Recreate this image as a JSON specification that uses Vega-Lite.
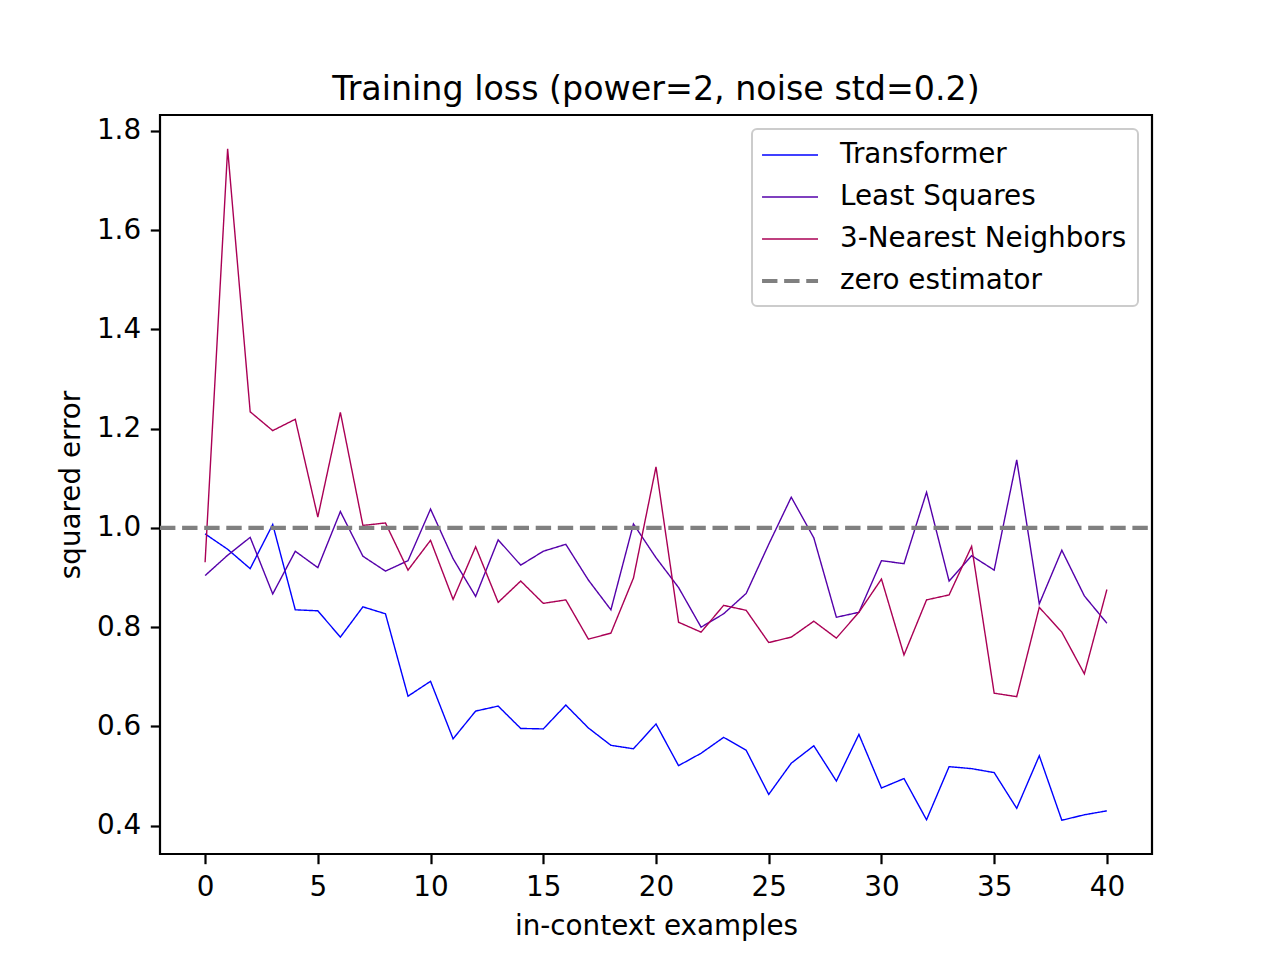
{
  "$schema": "https://vega.github.io/schema/vega-lite/v6.json",
  "autosize": "none",
  "width": 992,
  "height": 739,
  "padding": {"left": 160, "top": 115, "right": 128, "bottom": 106},
  "background": "white",
  "title": {
    "text": "Training loss (power=2, noise std=0.2)",
    "font": "DejaVu Sans",
    "fontSize": 33.3,
    "fontWeight": "normal",
    "color": "black",
    "baseline": "alphabetic",
    "offset": -18
  },
  "config": {
    "view": {"stroke": "black", "strokeWidth": 2.2},
    "font": "DejaVu Sans",
    "axis": {
      "domain": false,
      "grid": false,
      "labelFont": "DejaVu Sans",
      "labelFontSize": 27.8,
      "labelColor": "black",
      "tickColor": "black",
      "tickSize": 9.7,
      "tickWidth": 2.2,
      "labelPadding": 9.7,
      "titleFont": "DejaVu Sans",
      "titleFontSize": 27.8,
      "titleFontWeight": "normal",
      "titleColor": "black",
      "titlePadding": 11
    },
    "legend": {
      "labelFont": "DejaVu Sans",
      "labelFontSize": 27.8,
      "labelColor": "black",
      "labelLimit": 500,
      "orient": "top-right",
      "offset": 14,
      "padding": 11,
      "rowPadding": 13,
      "labelOffset": 47,
      "symbolType": "M-1.14,0H2.86",
      "symbolSize": 784,
      "fillColor": "rgba(255,255,255,0.8)",
      "strokeColor": "#cccccc",
      "cornerRadius": 5
    }
  },
  "data": {
    "values": [
      {"x": 0, "y": 0.988, "series": "Transformer"},
      {"x": 1, "y": 0.957, "series": "Transformer"},
      {"x": 2, "y": 0.918, "series": "Transformer"},
      {"x": 3, "y": 1.007, "series": "Transformer"},
      {"x": 4, "y": 0.835, "series": "Transformer"},
      {"x": 5, "y": 0.833, "series": "Transformer"},
      {"x": 6, "y": 0.780, "series": "Transformer"},
      {"x": 7, "y": 0.841, "series": "Transformer"},
      {"x": 8, "y": 0.827, "series": "Transformer"},
      {"x": 9, "y": 0.661, "series": "Transformer"},
      {"x": 10, "y": 0.691, "series": "Transformer"},
      {"x": 11, "y": 0.575, "series": "Transformer"},
      {"x": 12, "y": 0.631, "series": "Transformer"},
      {"x": 13, "y": 0.641, "series": "Transformer"},
      {"x": 14, "y": 0.596, "series": "Transformer"},
      {"x": 15, "y": 0.595, "series": "Transformer"},
      {"x": 16, "y": 0.643, "series": "Transformer"},
      {"x": 17, "y": 0.597, "series": "Transformer"},
      {"x": 18, "y": 0.562, "series": "Transformer"},
      {"x": 19, "y": 0.555, "series": "Transformer"},
      {"x": 20, "y": 0.605, "series": "Transformer"},
      {"x": 21, "y": 0.521, "series": "Transformer"},
      {"x": 22, "y": 0.546, "series": "Transformer"},
      {"x": 23, "y": 0.578, "series": "Transformer"},
      {"x": 24, "y": 0.552, "series": "Transformer"},
      {"x": 25, "y": 0.463, "series": "Transformer"},
      {"x": 26, "y": 0.526, "series": "Transformer"},
      {"x": 27, "y": 0.561, "series": "Transformer"},
      {"x": 28, "y": 0.490, "series": "Transformer"},
      {"x": 29, "y": 0.584, "series": "Transformer"},
      {"x": 30, "y": 0.476, "series": "Transformer"},
      {"x": 31, "y": 0.495, "series": "Transformer"},
      {"x": 32, "y": 0.412, "series": "Transformer"},
      {"x": 33, "y": 0.519, "series": "Transformer"},
      {"x": 34, "y": 0.515, "series": "Transformer"},
      {"x": 35, "y": 0.507, "series": "Transformer"},
      {"x": 36, "y": 0.435, "series": "Transformer"},
      {"x": 37, "y": 0.541, "series": "Transformer"},
      {"x": 38, "y": 0.411, "series": "Transformer"},
      {"x": 39, "y": 0.422, "series": "Transformer"},
      {"x": 40, "y": 0.430, "series": "Transformer"},
      {"x": 0, "y": 0.904, "series": "Least Squares"},
      {"x": 1, "y": 0.945, "series": "Least Squares"},
      {"x": 2, "y": 0.981, "series": "Least Squares"},
      {"x": 3, "y": 0.867, "series": "Least Squares"},
      {"x": 4, "y": 0.953, "series": "Least Squares"},
      {"x": 5, "y": 0.920, "series": "Least Squares"},
      {"x": 6, "y": 1.033, "series": "Least Squares"},
      {"x": 7, "y": 0.943, "series": "Least Squares"},
      {"x": 8, "y": 0.913, "series": "Least Squares"},
      {"x": 9, "y": 0.934, "series": "Least Squares"},
      {"x": 10, "y": 1.038, "series": "Least Squares"},
      {"x": 11, "y": 0.938, "series": "Least Squares"},
      {"x": 12, "y": 0.862, "series": "Least Squares"},
      {"x": 13, "y": 0.976, "series": "Least Squares"},
      {"x": 14, "y": 0.925, "series": "Least Squares"},
      {"x": 15, "y": 0.953, "series": "Least Squares"},
      {"x": 16, "y": 0.967, "series": "Least Squares"},
      {"x": 17, "y": 0.895, "series": "Least Squares"},
      {"x": 18, "y": 0.835, "series": "Least Squares"},
      {"x": 19, "y": 1.008, "series": "Least Squares"},
      {"x": 20, "y": 0.940, "series": "Least Squares"},
      {"x": 21, "y": 0.880, "series": "Least Squares"},
      {"x": 22, "y": 0.800, "series": "Least Squares"},
      {"x": 23, "y": 0.827, "series": "Least Squares"},
      {"x": 24, "y": 0.868, "series": "Least Squares"},
      {"x": 25, "y": 0.967, "series": "Least Squares"},
      {"x": 26, "y": 1.062, "series": "Least Squares"},
      {"x": 27, "y": 0.980, "series": "Least Squares"},
      {"x": 28, "y": 0.820, "series": "Least Squares"},
      {"x": 29, "y": 0.830, "series": "Least Squares"},
      {"x": 30, "y": 0.934, "series": "Least Squares"},
      {"x": 31, "y": 0.928, "series": "Least Squares"},
      {"x": 32, "y": 1.072, "series": "Least Squares"},
      {"x": 33, "y": 0.893, "series": "Least Squares"},
      {"x": 34, "y": 0.944, "series": "Least Squares"},
      {"x": 35, "y": 0.915, "series": "Least Squares"},
      {"x": 36, "y": 1.137, "series": "Least Squares"},
      {"x": 37, "y": 0.847, "series": "Least Squares"},
      {"x": 38, "y": 0.955, "series": "Least Squares"},
      {"x": 39, "y": 0.863, "series": "Least Squares"},
      {"x": 40, "y": 0.808, "series": "Least Squares"},
      {"x": 0, "y": 0.931, "series": "3-Nearest Neighbors"},
      {"x": 1, "y": 1.764, "series": "3-Nearest Neighbors"},
      {"x": 2, "y": 1.234, "series": "3-Nearest Neighbors"},
      {"x": 3, "y": 1.196, "series": "3-Nearest Neighbors"},
      {"x": 4, "y": 1.219, "series": "3-Nearest Neighbors"},
      {"x": 5, "y": 1.022, "series": "3-Nearest Neighbors"},
      {"x": 6, "y": 1.233, "series": "3-Nearest Neighbors"},
      {"x": 7, "y": 1.005, "series": "3-Nearest Neighbors"},
      {"x": 8, "y": 1.010, "series": "3-Nearest Neighbors"},
      {"x": 9, "y": 0.915, "series": "3-Nearest Neighbors"},
      {"x": 10, "y": 0.975, "series": "3-Nearest Neighbors"},
      {"x": 11, "y": 0.856, "series": "3-Nearest Neighbors"},
      {"x": 12, "y": 0.962, "series": "3-Nearest Neighbors"},
      {"x": 13, "y": 0.850, "series": "3-Nearest Neighbors"},
      {"x": 14, "y": 0.893, "series": "3-Nearest Neighbors"},
      {"x": 15, "y": 0.848, "series": "3-Nearest Neighbors"},
      {"x": 16, "y": 0.855, "series": "3-Nearest Neighbors"},
      {"x": 17, "y": 0.776, "series": "3-Nearest Neighbors"},
      {"x": 18, "y": 0.788, "series": "3-Nearest Neighbors"},
      {"x": 19, "y": 0.899, "series": "3-Nearest Neighbors"},
      {"x": 20, "y": 1.123, "series": "3-Nearest Neighbors"},
      {"x": 21, "y": 0.810, "series": "3-Nearest Neighbors"},
      {"x": 22, "y": 0.790, "series": "3-Nearest Neighbors"},
      {"x": 23, "y": 0.844, "series": "3-Nearest Neighbors"},
      {"x": 24, "y": 0.834, "series": "3-Nearest Neighbors"},
      {"x": 25, "y": 0.769, "series": "3-Nearest Neighbors"},
      {"x": 26, "y": 0.780, "series": "3-Nearest Neighbors"},
      {"x": 27, "y": 0.812, "series": "3-Nearest Neighbors"},
      {"x": 28, "y": 0.778, "series": "3-Nearest Neighbors"},
      {"x": 29, "y": 0.830, "series": "3-Nearest Neighbors"},
      {"x": 30, "y": 0.897, "series": "3-Nearest Neighbors"},
      {"x": 31, "y": 0.744, "series": "3-Nearest Neighbors"},
      {"x": 32, "y": 0.855, "series": "3-Nearest Neighbors"},
      {"x": 33, "y": 0.865, "series": "3-Nearest Neighbors"},
      {"x": 34, "y": 0.963, "series": "3-Nearest Neighbors"},
      {"x": 35, "y": 0.667, "series": "3-Nearest Neighbors"},
      {"x": 36, "y": 0.660, "series": "3-Nearest Neighbors"},
      {"x": 37, "y": 0.840, "series": "3-Nearest Neighbors"},
      {"x": 38, "y": 0.790, "series": "3-Nearest Neighbors"},
      {"x": 39, "y": 0.706, "series": "3-Nearest Neighbors"},
      {"x": 40, "y": 0.876, "series": "3-Nearest Neighbors"},
      {"x": -2, "y": 1.0, "series": "zero estimator"},
      {"x": 42, "y": 1.0, "series": "zero estimator"}
    ]
  },
  "mark": {"type": "line", "clip": true},
  "encoding": {
    "x": {
      "field": "x",
      "type": "quantitative",
      "title": "in-context examples",
      "scale": {"domain": [-2, 42], "nice": false, "zero": false},
      "axis": {"values": [0, 5, 10, 15, 20, 25, 30, 35, 40], "format": "d"}
    },
    "y": {
      "field": "y",
      "type": "quantitative",
      "title": "squared error",
      "scale": {"domain": [0.343, 1.832], "nice": false, "zero": false},
      "axis": {"values": [0.4, 0.6, 0.8, 1.0, 1.2, 1.4, 1.6, 1.8], "format": ".1f"}
    },
    "color": {
      "field": "series",
      "type": "nominal",
      "title": null,
      "sort": null,
      "scale": {
        "domain": ["Transformer", "Least Squares", "3-Nearest Neighbors", "zero estimator"],
        "range": ["#0000ff", "#5500aa", "#aa0055", "#808080"]
      },
      "legend": {
        "encode": {
          "legend": {
            "update": {"strokeWidth": {"value": 2}}
          },
          "symbols": {
            "update": {
              "strokeWidth": {"signal": "(datum.value === 'zero estimator' ? 4.2 : 1.4)"}
            }
          }
        }
      }
    },
    "strokeDash": {
      "field": "series",
      "type": "nominal",
      "title": null,
      "sort": null,
      "scale": {
        "domain": ["Transformer", "Least Squares", "3-Nearest Neighbors", "zero estimator"],
        "range": [[1, 0], [1, 0], [1, 0], [15.4, 6.7]]
      }
    },
    "strokeWidth": {
      "condition": {"test": "datum.series === 'zero estimator'", "value": 4.2},
      "value": 1.4
    },
    "order": {"field": "x"}
  }
}
